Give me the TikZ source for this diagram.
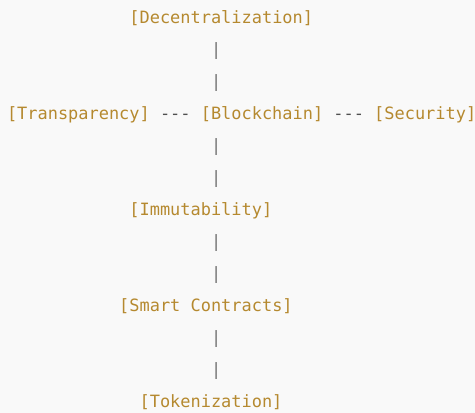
\documentclass[tikz,border=0pt]{standalone}
\usepackage{fontspec}
\setmonofont{DejaVu Sans Mono}
\definecolor{bgc}{RGB}{249,249,249}
\definecolor{goldc}{RGB}{181,137,47}
\definecolor{pipec}{RGB}{115,115,115}
\definecolor{dashc}{RGB}{80,80,80}
\tikzset{
  txt/.style={inner sep=0pt,outer sep=0pt,anchor=base west,font=\ttfamily\fontsize{16.95}{20}\selectfont},
  term/.style={txt,text=goldc},
  pipe/.style={txt,text=pipec},
  dashlink/.style={txt,text=dashc}
}
\newcommand{\cx}[1]{7+10.2*#1}
\newcommand{\ly}[1]{23+32*#1}
\begin{document}
\begin{tikzpicture}[x=1pt,y=-1pt]
\fill[bgc] (0,0) rectangle (475,413);
\useasboundingbox (0,0) rectangle (475,413);
\node[term] (dec) at ({\cx{12}},{\ly{0}}) {[Decentralization]};
\node[pipe] (p1) at ({\cx{20}},{\ly{1}}) {|};
\node[pipe] (p2) at ({\cx{20}},{\ly{2}}) {|};
\node[term] (tra) at ({\cx{0}},{\ly{3}}) {[Transparency]};
\node[dashlink] (d1) at ({\cx{15}},{\ly{3}}) {---};
\node[term] (blk) at ({\cx{19}},{\ly{3}}) {[Blockchain]};
\node[dashlink] (d2) at ({\cx{32}},{\ly{3}}) {---};
\node[term] (sec) at ({\cx{36}},{\ly{3}}) {[Security]};
\node[pipe] (p3) at ({\cx{20}},{\ly{4}}) {|};
\node[pipe] (p4) at ({\cx{20}},{\ly{5}}) {|};
\node[term] (imm) at ({\cx{12}},{\ly{6}}) {[Immutability]};
\node[pipe] (p5) at ({\cx{20}},{\ly{7}}) {|};
\node[pipe] (p6) at ({\cx{20}},{\ly{8}}) {|};
\node[term] (sma) at ({\cx{11}},{\ly{9}}) {[Smart Contracts]};
\node[pipe] (p7) at ({\cx{20}},{\ly{10}}) {|};
\node[pipe] (p8) at ({\cx{20}},{\ly{11}}) {|};
\node[term] (tok) at ({\cx{13}},{\ly{12}}) {[Tokenization]};
\end{tikzpicture}
\end{document}
